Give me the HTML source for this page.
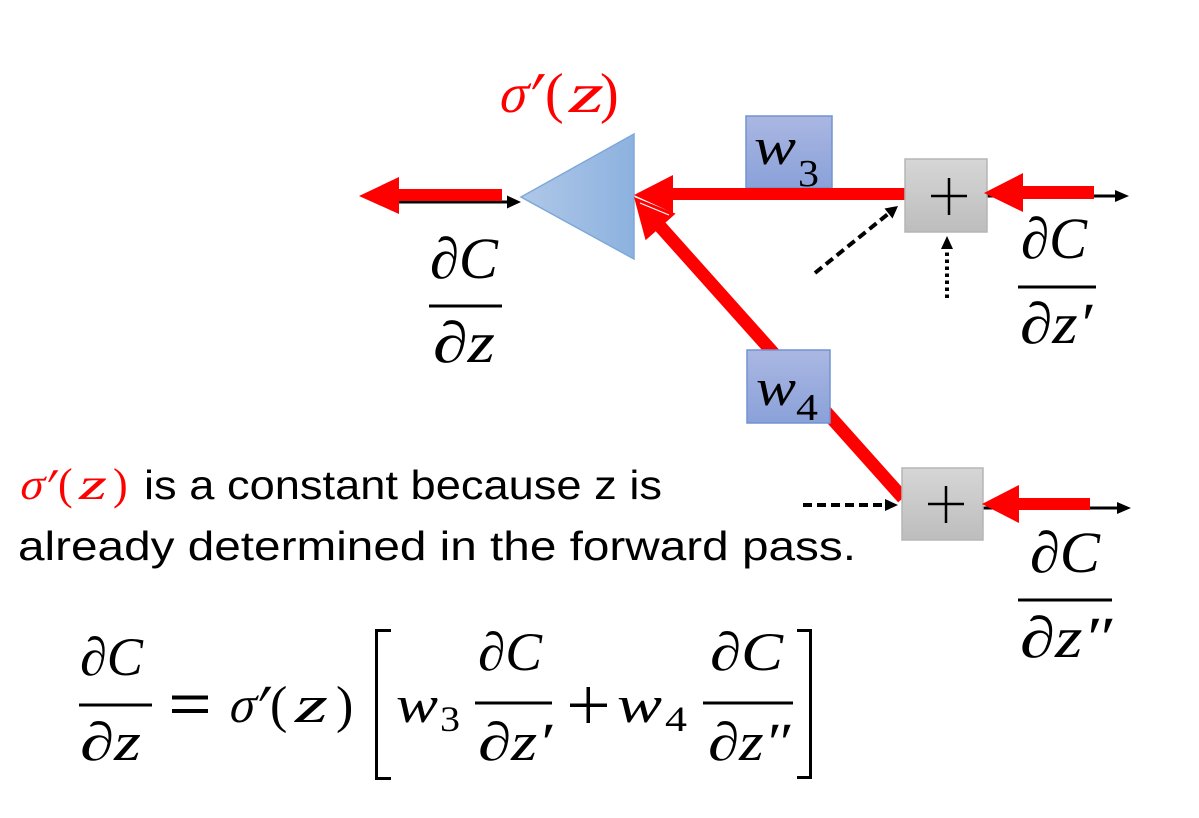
<!DOCTYPE html>
<html><head><meta charset="utf-8"><style>
html,body{margin:0;padding:0;background:#fff;}
svg{display:block;}
.m{font-family:"Liberation Serif",serif;font-style:italic;}
.u{font-family:"Liberation Serif",serif;font-style:normal;}
.t{font-family:"Liberation Sans",sans-serif;}
</style></head><body>
<svg width="1199" height="818" viewBox="0 0 1199 818" xmlns="http://www.w3.org/2000/svg">
<defs>
<linearGradient id="bb" x1="0" y1="0" x2="0" y2="1"><stop offset="0" stop-color="#aab7e2"/><stop offset="1" stop-color="#8aa1d9"/></linearGradient>
<linearGradient id="tri" x1="0" y1="0" x2="1" y2="0"><stop offset="0" stop-color="#b0c7e8"/><stop offset="1" stop-color="#8cb2df"/></linearGradient>
<linearGradient id="gr" x1="0" y1="0" x2="0" y2="1"><stop offset="0" stop-color="#d6d6d6"/><stop offset="1" stop-color="#bdbdbd"/></linearGradient>
</defs>

<!-- thin black arrows -->
<line x1="398" y1="202" x2="509" y2="202" stroke="#000" stroke-width="3"/>
<polygon points="521,202 507,195.5 507,208.5" fill="#000"/>
<line x1="985" y1="196" x2="1117" y2="196" stroke="#000" stroke-width="3"/>
<polygon points="1129,196 1115,190 1115,202" fill="#000"/>
<line x1="982" y1="508" x2="1119" y2="508" stroke="#000" stroke-width="3"/>
<polygon points="1131,508 1117,502 1117,514" fill="#000"/>

<!-- dashed / dotted -->
<line x1="815" y1="273" x2="888" y2="214" stroke="#000" stroke-width="4" stroke-dasharray="9,5"/>
<polygon points="898,206 892.5,218.5 884.5,208.5" fill="#000"/>
<line x1="803" y1="505" x2="886" y2="505" stroke="#000" stroke-width="4" stroke-dasharray="9,5"/>
<polygon points="898,505 885,499 885,511" fill="#000"/>
<line x1="947" y1="298" x2="947" y2="248" stroke="#000" stroke-width="4" stroke-dasharray="3.5,3.5"/>
<polygon points="947,236 941,249 953,249" fill="#000"/>

<!-- triangle -->
<polygon points="521,197 634,134 634,259" fill="url(#tri)" stroke="#7ea8d9" stroke-width="1.5"/>

<!-- left red arrow -->
<rect x="396" y="189" width="106" height="12" fill="#ff0000"/>
<polygon points="359,196 399,177 399,214" fill="#ff0000"/>

<!-- w3 box -->
<rect x="746" y="116" width="86" height="72" fill="url(#bb)" stroke="#7393d3" stroke-width="1.5"/>

<!-- horizontal red from plus1 to triangle -->
<rect x="671" y="188" width="236" height="12" fill="#ff0000"/>
<polygon points="634,195 673,175 673,213" fill="#ff0000"/>

<!-- diagonal red -->
<line x1="658" y1="224" x2="903" y2="498" stroke="#ff0000" stroke-width="13"/>
<polygon points="634,197 645.6,240.2 675.6,213.6" fill="#ff0000"/>
<line x1="640" y1="203" x2="669" y2="215" stroke="#fff" stroke-width="1.2"/>

<!-- w4 box -->
<rect x="747" y="350" width="83" height="73" fill="url(#bb)" stroke="#7393d3" stroke-width="1.5"/>

<!-- plus boxes -->
<rect x="905" y="159" width="82" height="73" fill="url(#gr)" stroke="#b5b5b5" stroke-width="1.5"/>
<line x1="931" y1="196" x2="967" y2="196" stroke="#000" stroke-width="2.5"/>
<line x1="949" y1="178" x2="949" y2="215" stroke="#000" stroke-width="2.5"/>
<rect x="902" y="468" width="81" height="72" fill="url(#gr)" stroke="#b5b5b5" stroke-width="1.5"/>
<line x1="928" y1="504" x2="964" y2="504" stroke="#000" stroke-width="2.5"/>
<line x1="946" y1="486" x2="946" y2="523" stroke="#000" stroke-width="2.5"/>

<!-- red arrows into plus boxes -->
<rect x="1021" y="186" width="73" height="13" fill="#ff0000"/>
<polygon points="984,193 1023,173 1023,212" fill="#ff0000"/>
<rect x="1017" y="498" width="73" height="12" fill="#ff0000"/>
<polygon points="982,504 1019,485 1019,523" fill="#ff0000"/>

<!-- box labels -->
<text class="m" x="754" y="164" font-size="52" textLength="42" lengthAdjust="spacingAndGlyphs">w</text>
<text class="u" x="798" y="186" font-size="38" textLength="21" lengthAdjust="spacingAndGlyphs">3</text>
<text class="m" x="756" y="405" font-size="52" textLength="40" lengthAdjust="spacingAndGlyphs">w</text>
<text class="u" x="796" y="420" font-size="38" textLength="22" lengthAdjust="spacingAndGlyphs">4</text>

<!-- sigma'(z) top -->
<g fill="#ff0000">
<text class="u" transform="translate(497,112) skewX(-14)" font-size="56" textLength="28" lengthAdjust="spacingAndGlyphs">σ</text>
<text class="u" transform="translate(519,116) skewX(-20)" font-size="64">′</text>
<text class="u" x="545" y="112" font-size="56">(</text>
<text class="m" x="569" y="112" font-size="56" textLength="35" lengthAdjust="spacingAndGlyphs">z</text>
<text class="u" x="600" y="112" font-size="56">)</text>
</g>

<!-- dC/dz left -->
<text class="m" x="430" y="278" font-size="58" textLength="68" lengthAdjust="spacingAndGlyphs">∂C</text>
<rect x="429" y="304.5" width="73" height="3" fill="#000"/>
<text class="m" x="433" y="362" font-size="58" textLength="62" lengthAdjust="spacingAndGlyphs">∂z</text>

<!-- dC/dz' -->
<text class="m" x="1021" y="258" font-size="58" textLength="66" lengthAdjust="spacingAndGlyphs">∂C</text>
<rect x="1018" y="285.5" width="78" height="3" fill="#000"/>
<text class="m" x="1020" y="343" font-size="58" textLength="72" lengthAdjust="spacingAndGlyphs">∂z′</text>

<!-- dC/dz'' -->
<text class="m" x="1030" y="572" font-size="58" textLength="70" lengthAdjust="spacingAndGlyphs">∂C</text>
<rect x="1018" y="598.5" width="94" height="3" fill="#000"/>
<text class="m" x="1020" y="657" font-size="58" textLength="92" lengthAdjust="spacingAndGlyphs">∂z″</text>

<!-- body text -->
<g fill="#ff0000">
<text class="u" transform="translate(18,499) skewX(-14)" font-size="44" textLength="24" lengthAdjust="spacingAndGlyphs">σ</text>
<text class="u" transform="translate(38,503) skewX(-20)" font-size="50">′</text>
<text class="u" x="58" y="499" font-size="44">(</text>
<text class="m" x="79" y="499" font-size="44" textLength="28" lengthAdjust="spacingAndGlyphs">z</text>
<text class="u" x="113" y="499" font-size="44">)</text>
</g>
<text class="t" x="144" y="499" font-size="41" textLength="518" lengthAdjust="spacingAndGlyphs">is a constant because z is</text>
<text class="t" x="18" y="560" font-size="41" textLength="838" lengthAdjust="spacingAndGlyphs">already determined in the forward pass.</text>

<!-- equation -->
<text class="m" x="80" y="675" font-size="54" textLength="63" lengthAdjust="spacingAndGlyphs">∂C</text>
<rect x="79" y="703.5" width="73" height="3" fill="#000"/>
<text class="m" x="80" y="760" font-size="54" textLength="61" lengthAdjust="spacingAndGlyphs">∂z</text>

<rect x="172" y="695.5" width="36" height="4" fill="#000"/>
<rect x="172" y="709" width="36" height="4" fill="#000"/>

<text class="u" transform="translate(227,722) skewX(-14)" font-size="52" textLength="26" lengthAdjust="spacingAndGlyphs">σ</text>
<text class="u" transform="translate(247,726) skewX(-20)" font-size="60">′</text>
<text class="u" x="270" y="722" font-size="52">(</text>
<text class="m" x="295" y="722" font-size="52" textLength="33" lengthAdjust="spacingAndGlyphs">z</text>
<text class="u" x="336" y="722" font-size="52">)</text>

<path d="M391,630.5 L376.5,630.5 L376.5,778.5 L391,778.5" fill="none" stroke="#000" stroke-width="3"/>

<text class="m" x="396" y="722" font-size="52" textLength="42" lengthAdjust="spacingAndGlyphs">w</text>
<text class="u" x="440" y="731" font-size="36" textLength="20" lengthAdjust="spacingAndGlyphs">3</text>

<text class="m" x="478" y="670" font-size="54" textLength="64" lengthAdjust="spacingAndGlyphs">∂C</text>
<rect x="475" y="701.5" width="77" height="3" fill="#000"/>
<text class="m" x="478" y="760" font-size="54" textLength="74" lengthAdjust="spacingAndGlyphs">∂z′</text>

<rect x="570" y="703.5" width="37" height="3.5" fill="#000"/>
<rect x="586.5" y="687" width="3.5" height="36" fill="#000"/>

<text class="m" x="617" y="722" font-size="52" textLength="45" lengthAdjust="spacingAndGlyphs">w</text>
<text class="u" x="665" y="731" font-size="36" textLength="22" lengthAdjust="spacingAndGlyphs">4</text>

<text class="m" x="710" y="670" font-size="54" textLength="73" lengthAdjust="spacingAndGlyphs">∂C</text>
<rect x="703" y="701.5" width="90" height="3" fill="#000"/>
<text class="m" x="708" y="760" font-size="54" textLength="82" lengthAdjust="spacingAndGlyphs">∂z″</text>

<path d="M797,630.5 L810.5,630.5 L810.5,777.5 L797,777.5" fill="none" stroke="#000" stroke-width="3"/>
</svg>
</body></html>
